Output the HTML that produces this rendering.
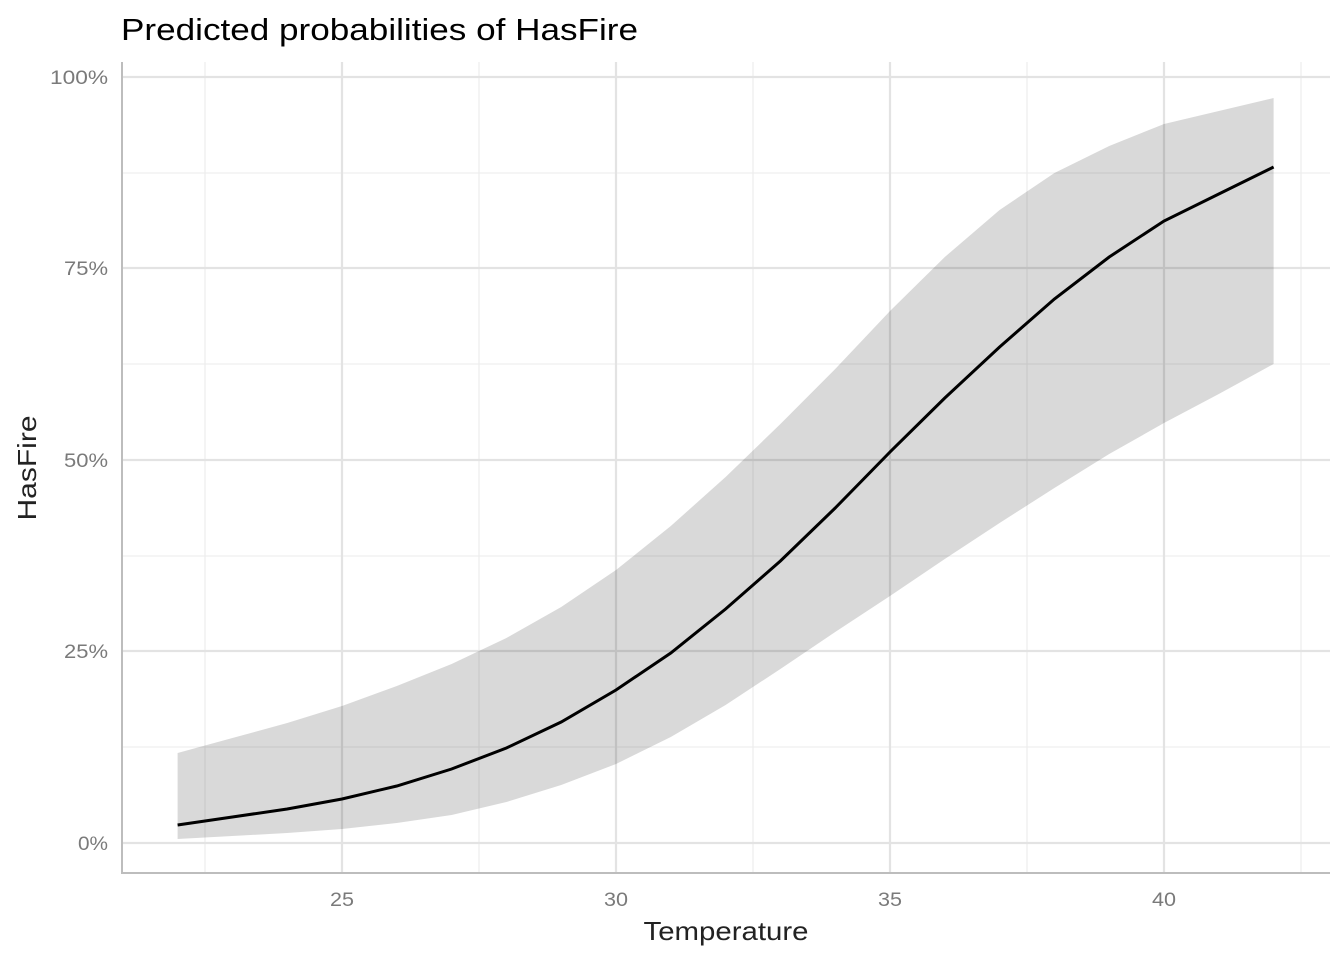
<!DOCTYPE html>
<html><head><meta charset="utf-8"><style>body{margin:0;background:#fff}svg{display:block}text{font-family:"Liberation Sans",Arial,sans-serif}</style></head><body>
<svg width="1344" height="960" viewBox="0 0 1344 960">
<g stroke="#ebebeb" stroke-width="1.1">
<line x1="205" y1="62" x2="205" y2="873"/><line x1="479" y1="62" x2="479" y2="873"/><line x1="753" y1="62" x2="753" y2="873"/><line x1="1027" y1="62" x2="1027" y2="873"/><line x1="1301" y1="62" x2="1301" y2="873"/>
<line x1="122" y1="747" x2="1330" y2="747"/><line x1="122" y1="556" x2="1330" y2="556"/><line x1="122" y1="364" x2="1330" y2="364"/><line x1="122" y1="173" x2="1330" y2="173"/>
</g>
<g stroke="#e3e3e3" stroke-width="2.2">
<line x1="342" y1="62" x2="342" y2="873"/><line x1="616" y1="62" x2="616" y2="873"/><line x1="890" y1="62" x2="890" y2="873"/><line x1="1164" y1="62" x2="1164" y2="873"/>
<line x1="122" y1="843" x2="1330" y2="843"/><line x1="122" y1="651" x2="1330" y2="651"/><line x1="122" y1="460" x2="1330" y2="460"/><line x1="122" y1="268" x2="1330" y2="268"/><line x1="122" y1="77" x2="1330" y2="77"/>
</g>
<polygon fill="#000" fill-opacity="0.15" points="177.6,753 232.4,738 287.2,723 342,706 396.8,686 451.6,664 506.4,638 561.2,607 616,570 670.8,526 725.6,477 780.4,424 835.2,369 890,311 944.8,257 999.6,210 1054.4,173 1109.2,146 1164,124 1218.8,111 1273.6,98 1273.6,364 1218.8,394 1164,423 1109.2,454 1054.4,488 999.6,523 944.8,559 890,596 835.2,632 780.4,669 725.6,705 670.8,737 616,764 561.2,785 506.4,802 451.6,815 396.8,823 342,829 287.2,833 232.4,836 177.6,839"/>
<polyline fill="none" stroke="#000" stroke-width="3" points="177.6,825 232.4,817 287.2,809 342,799 396.8,786 451.6,769 506.4,748 561.2,722 616,690 670.8,653 725.6,609 780.4,561 835.2,508 890,452 944.8,398 999.6,347 1054.4,299 1109.2,257 1164,221 1218.8,194 1273.6,167"/>
<g stroke="#bdbdbd" stroke-width="2"><line x1="122" y1="62" x2="122" y2="874"/><line x1="121" y1="873" x2="1330" y2="873"/></g>
<g fill="#7a7a7a" font-size="19" text-anchor="end">
<text x="108" y="850" textLength="30" lengthAdjust="spacingAndGlyphs">0%</text><text x="108" y="658" textLength="44" lengthAdjust="spacingAndGlyphs">25%</text><text x="108" y="467" textLength="44" lengthAdjust="spacingAndGlyphs">50%</text><text x="108" y="275" textLength="44" lengthAdjust="spacingAndGlyphs">75%</text><text x="108" y="84" textLength="58" lengthAdjust="spacingAndGlyphs">100%</text></g>
<g fill="#7a7a7a" font-size="19" text-anchor="middle">
<text x="342" y="906" textLength="24" lengthAdjust="spacingAndGlyphs">25</text><text x="616" y="906" textLength="24" lengthAdjust="spacingAndGlyphs">30</text><text x="890" y="906" textLength="24" lengthAdjust="spacingAndGlyphs">35</text><text x="1164" y="906" textLength="24" lengthAdjust="spacingAndGlyphs">40</text></g>
<text x="726" y="940" font-size="26" text-anchor="middle" fill="#222" textLength="165" lengthAdjust="spacingAndGlyphs">Temperature</text>
<text transform="translate(36,468) rotate(-90)" font-size="26" text-anchor="middle" fill="#222" textLength="105" lengthAdjust="spacingAndGlyphs">HasFire</text>
<text x="121" y="40" font-size="31" fill="#000" textLength="517" lengthAdjust="spacingAndGlyphs">Predicted probabilities of HasFire</text>
</svg></body></html>
